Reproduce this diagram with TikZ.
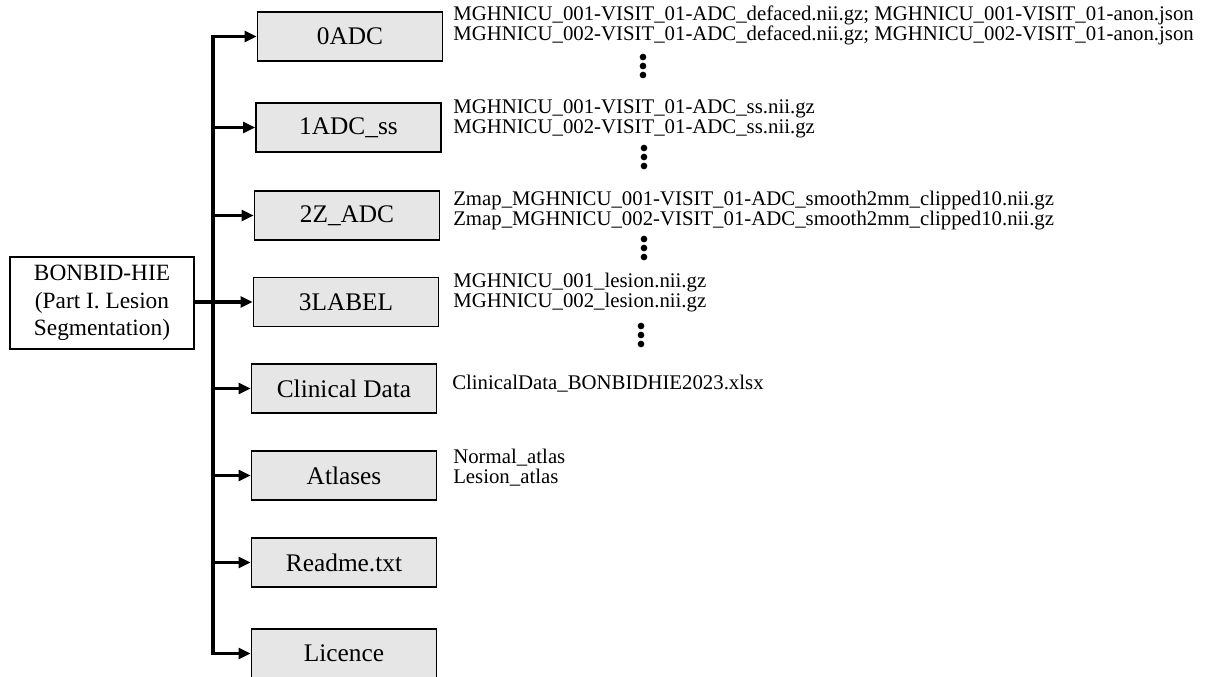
\documentclass[tikz,border=0pt]{standalone}
\usepackage{fontspec}
\setmainfont{Liberation Serif}
\usetikzlibrary{arrows.meta}
\definecolor{boxgray}{HTML}{E6E6E6}
\begin{document}
\begin{tikzpicture}[x=0.75pt,y=-0.75pt,
  box/.style={draw,line width=1.2pt,fill=boxgray,minimum width=138.75pt,minimum height=36.75pt,inner sep=0pt,font=\fontsize{19}{22}\selectfont},
  rootbox/.style={draw,line width=1pt,fill=white,minimum width=138pt,minimum height=69pt,inner sep=0pt,align=center,font=\fontsize{17.5}{20.5}\selectfont},
  file/.style={anchor=base west,inner sep=0pt,align=left,font={\fontsize{15.6}{14.6}\selectfont\lineskiplimit=-100pt\lineskip=0pt}},
  arr/.style={line width=2.5pt,-{Triangle[length=9pt,width=8pt]}},
  trunkline/.style={line width=2.5pt,line cap=rect},
  vdot/.style={circle,fill=black,inner sep=0pt,minimum size=5pt}]
\useasboundingbox (0,0) rectangle (1211,676);
\clip (0,0) rectangle (1211,676);
% root
\node[rootbox] (root) at (102,303) {BONBID-HIE\\(Part I. Lesion\\Segmentation)};
% branch boxes
\node[box] (b0) at (350,36.5) {0ADC};
\node[box] (b1) at (348.5,127.5) {1ADC\_ss};
\node[box] (b2) at (347,215.5) {2Z\_ADC};
\node[box] (b3) at (346,302) {3LABEL};
\node[box] (b4) at (344,388.5) {Clinical Data};
\node[box] (b5) at (344,475.5) {Atlases};
\node[box] (b6) at (344,562.5) {Readme.txt};
\node[box] (b7) at (344,653.5) {Licence};
% trunk
\coordinate (t0) at (213,36.5);
\coordinate (t1) at (213,653.5);
\draw[trunkline] (t0) -- (t1);
\foreach \b in {b0,b1,b2,b4,b5,b6,b7}{
  \draw[arr] (\b.west -| t0) -- (\b.west);
}
\draw[arr] (root.east |- b3.west) -- (b3.west);
% file lists (anchor at baseline of last line)
\node[file] (f0) at (453,40) {MGHNICU\_001-VISIT\_01-ADC\_defaced.nii.gz; MGHNICU\_001-VISIT\_01-anon.json\\MGHNICU\_002-VISIT\_01-ADC\_defaced.nii.gz; MGHNICU\_002-VISIT\_01-anon.json};
\node[vdot] (d0a) at (643,57) {};
\node[vdot] (d0b) at (643,66) {};
\node[vdot] (d0c) at (643,75) {};
\node[file] (f1) at (453,133) {MGHNICU\_001-VISIT\_01-ADC\_ss.nii.gz\\MGHNICU\_002-VISIT\_01-ADC\_ss.nii.gz};
\node[vdot] (d1a) at (644,148) {};
\node[vdot] (d1b) at (644,157) {};
\node[vdot] (d1c) at (644,166) {};
\node[file] (f2) at (453,225) {Zmap\_MGHNICU\_001-VISIT\_01-ADC\_smooth2mm\_clipped10.nii.gz\\Zmap\_MGHNICU\_002-VISIT\_01-ADC\_smooth2mm\_clipped10.nii.gz};
\node[vdot] (d2a) at (644,239) {};
\node[vdot] (d2b) at (644,248) {};
\node[vdot] (d2c) at (644,257) {};
\node[file] (f3) at (453,307) {MGHNICU\_001\_lesion.nii.gz\\MGHNICU\_002\_lesion.nii.gz};
\node[vdot] (d3a) at (641,326) {};
\node[vdot] (d3b) at (641,335) {};
\node[vdot] (d3c) at (641,344) {};
\node[file] (f4) at (452,389) {ClinicalData\_BONBIDHIE2023.xlsx};
\node[file] (f5) at (453,483) {Normal\_atlas\\Lesion\_atlas};
\end{tikzpicture}
\end{document}
